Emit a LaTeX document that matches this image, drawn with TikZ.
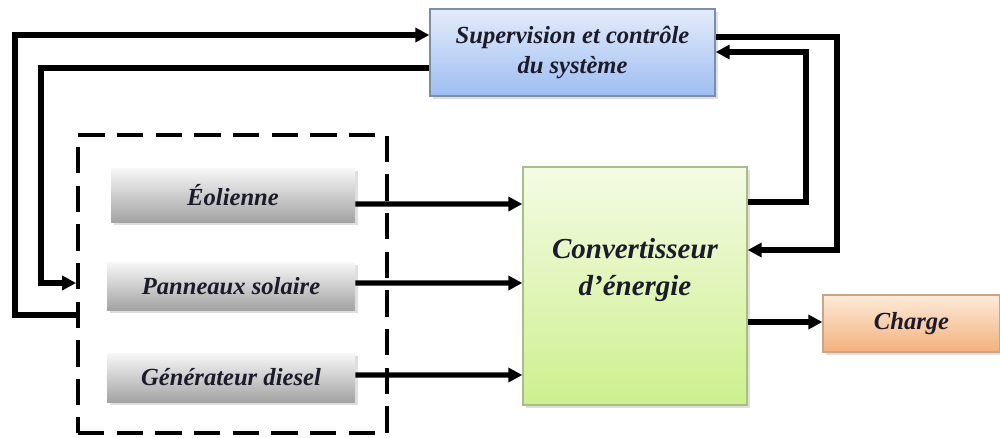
\documentclass[tikz,border=0pt]{standalone}
\usepackage{fontspec}
\setmainfont{Liberation Serif}
\usetikzlibrary{arrows.meta,shadows}
\definecolor{supTop}{HTML}{E4ECFA}
\definecolor{supBot}{HTML}{9DBDF2}
\definecolor{supEdge}{HTML}{7D8CA8}
\definecolor{convTop}{HTML}{F4FBE4}
\definecolor{convBot}{HTML}{CDF08E}
\definecolor{convEdge}{HTML}{A9BE86}
\definecolor{chTop}{HTML}{FDEBDA}
\definecolor{chBot}{HTML}{F3B07C}
\definecolor{chEdge}{HTML}{C9A485}
\definecolor{txt}{HTML}{1B1B2B}
\begin{document}
\begin{tikzpicture}[x=0.02cm,y=-0.02cm,
  blk/.style={inner sep=0pt, align=center, text=txt, font=\bfseries\itshape,
    drop shadow={opacity=0.25, shadow xshift=1.5pt, shadow yshift=-1.5pt}},
  src/.style={blk, top color=gray!6, bottom color=gray!72, font=\bfseries\itshape\fontsize{14}{16}\selectfont},
  conn/.style={line width=2.9pt},
  arr/.style={conn, -{Triangle[length=8pt,width=8pt]}},
  grpbox/.style={draw, line width=2.2pt, dash pattern=on 15pt off 7pt, inner sep=0pt}]
\useasboundingbox (0,0) rectangle (1000,437);

\node[blk, draw=supEdge, line width=0.8pt, top color=supTop, bottom color=supBot,
  minimum width=5.7cm, minimum height=1.74cm,
  font=\bfseries\itshape\fontsize{14}{17}\selectfont] (sup) at (572.5,52.5)
  {Supervision et contrôle\\du système};

\node[grpbox, minimum width=6.18cm, minimum height=5.96cm] (grp) at (232.5,284) {};

\node[src, minimum width=4.88cm, minimum height=1.08cm] (eol) at (233,195) {Éolienne};
\node[src, minimum width=4.96cm, minimum height=0.96cm] (pan) at (231,286) {Panneaux solaire};
\node[src, minimum width=4.96cm, minimum height=0.98cm] (gen) at (231,377.5) {Générateur diesel};

\node[blk, draw=convEdge, line width=0.8pt, top color=convTop, bottom color=convBot,
  minimum width=4.48cm, minimum height=4.76cm,
  font=\bfseries\itshape\fontsize{16.5}{21}\selectfont] (conv) at (635,286)
  {Convertisseur\\d’énergie\\[0.02cm]};

\node[blk, draw=chEdge, line width=0.8pt, top color=chTop, bottom color=chBot,
  minimum width=3.54cm, minimum height=1.14cm,
  font=\bfseries\itshape\fontsize{14}{16}\selectfont] (ch) at (911.5,323.5) {Charge};

% left loops
\coordinate (gA) at (grp.west |- 0,315);
\coordinate (gB) at (grp.west |- 0,283);
\coordinate (sA) at (sup.west |- 0,35);
\coordinate (sB) at (sup.west |- 0,68);
\draw[arr] (gA) -- (15,315) -- (15,35) -- (sA);
\draw[arr] (sB) -- (41,68) -- (41,283) -- (gB);

% sources to converter
\draw[arr] ([yshift=-0.18cm]eol.east) -- (conv.west |- 0,204);
\draw[arr] ([yshift=0.06cm]pan.east) -- (conv.west |- 0,283);
\draw[arr] ([yshift=0.05cm]gen.east) -- (conv.west |- 0,375);

% right loops
\coordinate (cA) at (conv.east |- 0,202);
\coordinate (cB) at (conv.east |- 0,250);
\coordinate (sC) at (sup.east |- 0,37);
\coordinate (sD) at (sup.east |- 0,52);
\draw[arr] (cA) -- (806,202) -- (806,52) -- (sD);
\draw[arr] (sC) -- (837,37) -- (837,250) -- (cB);

% to load
\draw[arr] (conv.east |- 0,322) -- (ch.west |- 0,322);
\end{tikzpicture}
\end{document}
